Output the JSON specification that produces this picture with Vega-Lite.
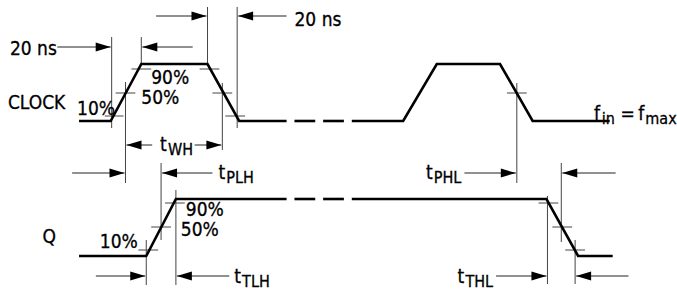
{
  "$schema": "https://vega.github.io/schema/vega-lite/v6.json",
  "width": 677,
  "height": 291,
  "padding": 0,
  "autosize": {"type": "fit", "contains": "padding"},
  "background": "white",
  "config": {"view": {"stroke": null}},
  "datasets": {
    "waves": [
      {"seg": "C1", "i": 0, "x": 80, "y": 121}, {"seg": "C1", "i": 1, "x": 112, "y": 121}, {"seg": "C1", "i": 2, "x": 143, "y": 64}, {"seg": "C1", "i": 3, "x": 210, "y": 64}, {"seg": "C1", "i": 4, "x": 242, "y": 121}, {"seg": "C1", "i": 5, "x": 290, "y": 121},
      {"seg": "C2", "i": 0, "x": 298, "y": 121}, {"seg": "C2", "i": 1, "x": 319, "y": 121},
      {"seg": "C3", "i": 0, "x": 327, "y": 121}, {"seg": "C3", "i": 1, "x": 348, "y": 121},
      {"seg": "C4", "i": 0, "x": 356, "y": 121}, {"seg": "C4", "i": 1, "x": 408, "y": 121}, {"seg": "C4", "i": 2, "x": 442, "y": 64}, {"seg": "C4", "i": 3, "x": 506, "y": 64}, {"seg": "C4", "i": 4, "x": 539, "y": 121}, {"seg": "C4", "i": 5, "x": 617, "y": 121},
      {"seg": "Q1", "i": 0, "x": 80, "y": 256}, {"seg": "Q1", "i": 1, "x": 148, "y": 256}, {"seg": "Q1", "i": 2, "x": 178, "y": 199}, {"seg": "Q1", "i": 3, "x": 290, "y": 199},
      {"seg": "Q2", "i": 0, "x": 298, "y": 199}, {"seg": "Q2", "i": 1, "x": 319, "y": 199},
      {"seg": "Q3", "i": 0, "x": 327, "y": 199}, {"seg": "Q3", "i": 1, "x": 348, "y": 199},
      {"seg": "Q4", "i": 0, "x": 356, "y": 199}, {"seg": "Q4", "i": 1, "x": 553, "y": 199}, {"seg": "Q4", "i": 2, "x": 585, "y": 256}, {"seg": "Q4", "i": 3, "x": 620, "y": 256}
    ],
    "thin": [
      {"x": 113, "y": 37, "x2": 113, "y2": 128},
      {"x": 143, "y": 37, "x2": 143, "y2": 64},
      {"x": 210, "y": 7, "x2": 210, "y2": 64},
      {"x": 240, "y": 7, "x2": 240, "y2": 128},
      {"x": 127, "y": 82, "x2": 127, "y2": 183},
      {"x": 225, "y": 83, "x2": 225, "y2": 150},
      {"x": 523, "y": 83, "x2": 523, "y2": 183},
      {"x": 163, "y": 163, "x2": 163, "y2": 240},
      {"x": 148, "y": 240, "x2": 148, "y2": 285},
      {"x": 178, "y": 190, "x2": 178, "y2": 285},
      {"x": 554, "y": 196, "x2": 554, "y2": 284},
      {"x": 568, "y": 163, "x2": 568, "y2": 242},
      {"x": 582, "y": 240, "x2": 582, "y2": 284},
      {"x": 106, "y": 116, "x2": 125, "y2": 116},
      {"x": 117, "y": 93, "x2": 137, "y2": 93},
      {"x": 133, "y": 69, "x2": 153, "y2": 69},
      {"x": 202, "y": 69, "x2": 222, "y2": 69},
      {"x": 215, "y": 93, "x2": 235, "y2": 93},
      {"x": 228, "y": 116, "x2": 248, "y2": 116},
      {"x": 513, "y": 93, "x2": 533, "y2": 93},
      {"x": 140, "y": 250, "x2": 160, "y2": 250},
      {"x": 153, "y": 227, "x2": 173, "y2": 227},
      {"x": 167, "y": 203, "x2": 187, "y2": 203},
      {"x": 545, "y": 203, "x2": 565, "y2": 203},
      {"x": 559, "y": 227, "x2": 579, "y2": 227},
      {"x": 572, "y": 250, "x2": 592, "y2": 250}
    ],
    "arrows": [
      {"from": 58, "tip": 112, "y": 47, "dir": "right"},
      {"from": 195, "tip": 144, "y": 47, "dir": "left"},
      {"from": 158, "tip": 209, "y": 16, "dir": "right"},
      {"from": 290, "tip": 241, "y": 16, "dir": "left"},
      {"from": 154, "tip": 128, "y": 145, "dir": "left"},
      {"from": 197, "tip": 224, "y": 145, "dir": "right"},
      {"from": 73, "tip": 126, "y": 173, "dir": "right"},
      {"from": 215, "tip": 164, "y": 173, "dir": "left"},
      {"from": 470, "tip": 522, "y": 173, "dir": "right"},
      {"from": 623, "tip": 569, "y": 173, "dir": "left"},
      {"from": 97, "tip": 147, "y": 276, "dir": "right"},
      {"from": 232, "tip": 179, "y": 276, "dir": "left"},
      {"from": 502, "tip": 553, "y": 276, "dir": "right"},
      {"from": 636, "tip": 583, "y": 276, "dir": "left"}
    ],
    "labels": [
      {"t": "20 ns", "x": 10, "y": 55},
      {"t": "20 ns", "x": 298, "y": 26},
      {"t": "CLOCK", "x": 8, "y": 109},
      {"t": "10%", "x": 78, "y": 115},
      {"t": "90%", "x": 153, "y": 84},
      {"t": "50%", "x": 143, "y": 104},
      {"t": "t", "x": 162, "y": 151},
      {"t": "t", "x": 221, "y": 179},
      {"t": "t", "x": 431, "y": 179},
      {"t": "t", "x": 237, "y": 283},
      {"t": "t", "x": 463, "y": 283},
      {"t": "Q", "x": 43, "y": 243},
      {"t": "10%", "x": 101, "y": 248},
      {"t": "90%", "x": 188, "y": 216},
      {"t": "50%", "x": 183, "y": 236},
      {"t": "f", "x": 601, "y": 120},
      {"t": "=", "x": 628, "y": 120},
      {"t": "f", "x": 646, "y": 120}
    ],
    "subs": [
      {"t": "WH", "x": 170, "y": 155},
      {"t": "PLH", "x": 229, "y": 183},
      {"t": "PHL", "x": 439, "y": 183},
      {"t": "TLH", "x": 245, "y": 287},
      {"t": "THL", "x": 471, "y": 287},
      {"t": "in", "x": 609, "y": 124},
      {"t": "max", "x": 653, "y": 124}
    ]
  },
  "encoding": {
    "x": {"type": "quantitative", "scale": {"domain": [0, 677], "nice": false, "zero": false}, "axis": null},
    "y": {"type": "quantitative", "scale": {"domain": [0, 291], "nice": false, "zero": false, "reverse": true}, "axis": null}
  },
  "layer": [
    {
      "data": {"name": "thin"},
      "mark": {"type": "rule", "color": "#444", "strokeWidth": 1},
      "encoding": {
        "x": {"field": "x", "type": "quantitative"},
        "y": {"field": "y", "type": "quantitative"},
        "x2": {"field": "x2"},
        "y2": {"field": "y2"}
      }
    },
    {
      "data": {"name": "arrows"},
      "mark": {"type": "rule", "color": "#222", "strokeWidth": 1},
      "encoding": {
        "x": {"field": "from", "type": "quantitative"},
        "x2": {"field": "tip"},
        "y": {"field": "y", "type": "quantitative"}
      }
    },
    {
      "data": {"name": "arrows"},
      "transform": [{"filter": "datum.dir === 'right'"}],
      "mark": {"type": "point", "shape": "M0,0L-1,-0.3L-1,0.3Z", "filled": true, "opacity": 1, "color": "black", "size": 900, "strokeWidth": 0},
      "encoding": {
        "x": {"field": "tip", "type": "quantitative"},
        "y": {"field": "y", "type": "quantitative"}
      }
    },
    {
      "data": {"name": "arrows"},
      "transform": [{"filter": "datum.dir === 'left'"}],
      "mark": {"type": "point", "shape": "M0,0L1,-0.3L1,0.3Z", "filled": true, "opacity": 1, "color": "black", "size": 900, "strokeWidth": 0},
      "encoding": {
        "x": {"field": "tip", "type": "quantitative"},
        "y": {"field": "y", "type": "quantitative"}
      }
    },
    {
      "data": {"name": "waves"},
      "mark": {"type": "line", "color": "black", "strokeWidth": 2.6, "strokeJoin": "miter", "strokeCap": "butt"},
      "encoding": {
        "x": {"field": "x", "type": "quantitative"},
        "y": {"field": "y", "type": "quantitative"},
        "detail": {"field": "seg"},
        "order": {"field": "i", "type": "quantitative"}
      }
    },
    {
      "data": {"name": "labels"},
      "mark": {"type": "text", "align": "left", "baseline": "alphabetic", "font": "DejaVu Sans Condensed, Liberation Sans Narrow, sans-serif", "fontSize": 19, "color": "black", "stroke": "black", "strokeWidth": 0.3},
      "encoding": {
        "x": {"field": "x", "type": "quantitative"},
        "y": {"field": "y", "type": "quantitative"},
        "text": {"field": "t"}
      }
    },
    {
      "data": {"name": "subs"},
      "mark": {"type": "text", "align": "left", "baseline": "alphabetic", "font": "DejaVu Sans Condensed, Liberation Sans Narrow, sans-serif", "fontSize": 16, "color": "black", "stroke": "black", "strokeWidth": 0.3},
      "encoding": {
        "x": {"field": "x", "type": "quantitative"},
        "y": {"field": "y", "type": "quantitative"},
        "text": {"field": "t"}
      }
    }
  ]
}
